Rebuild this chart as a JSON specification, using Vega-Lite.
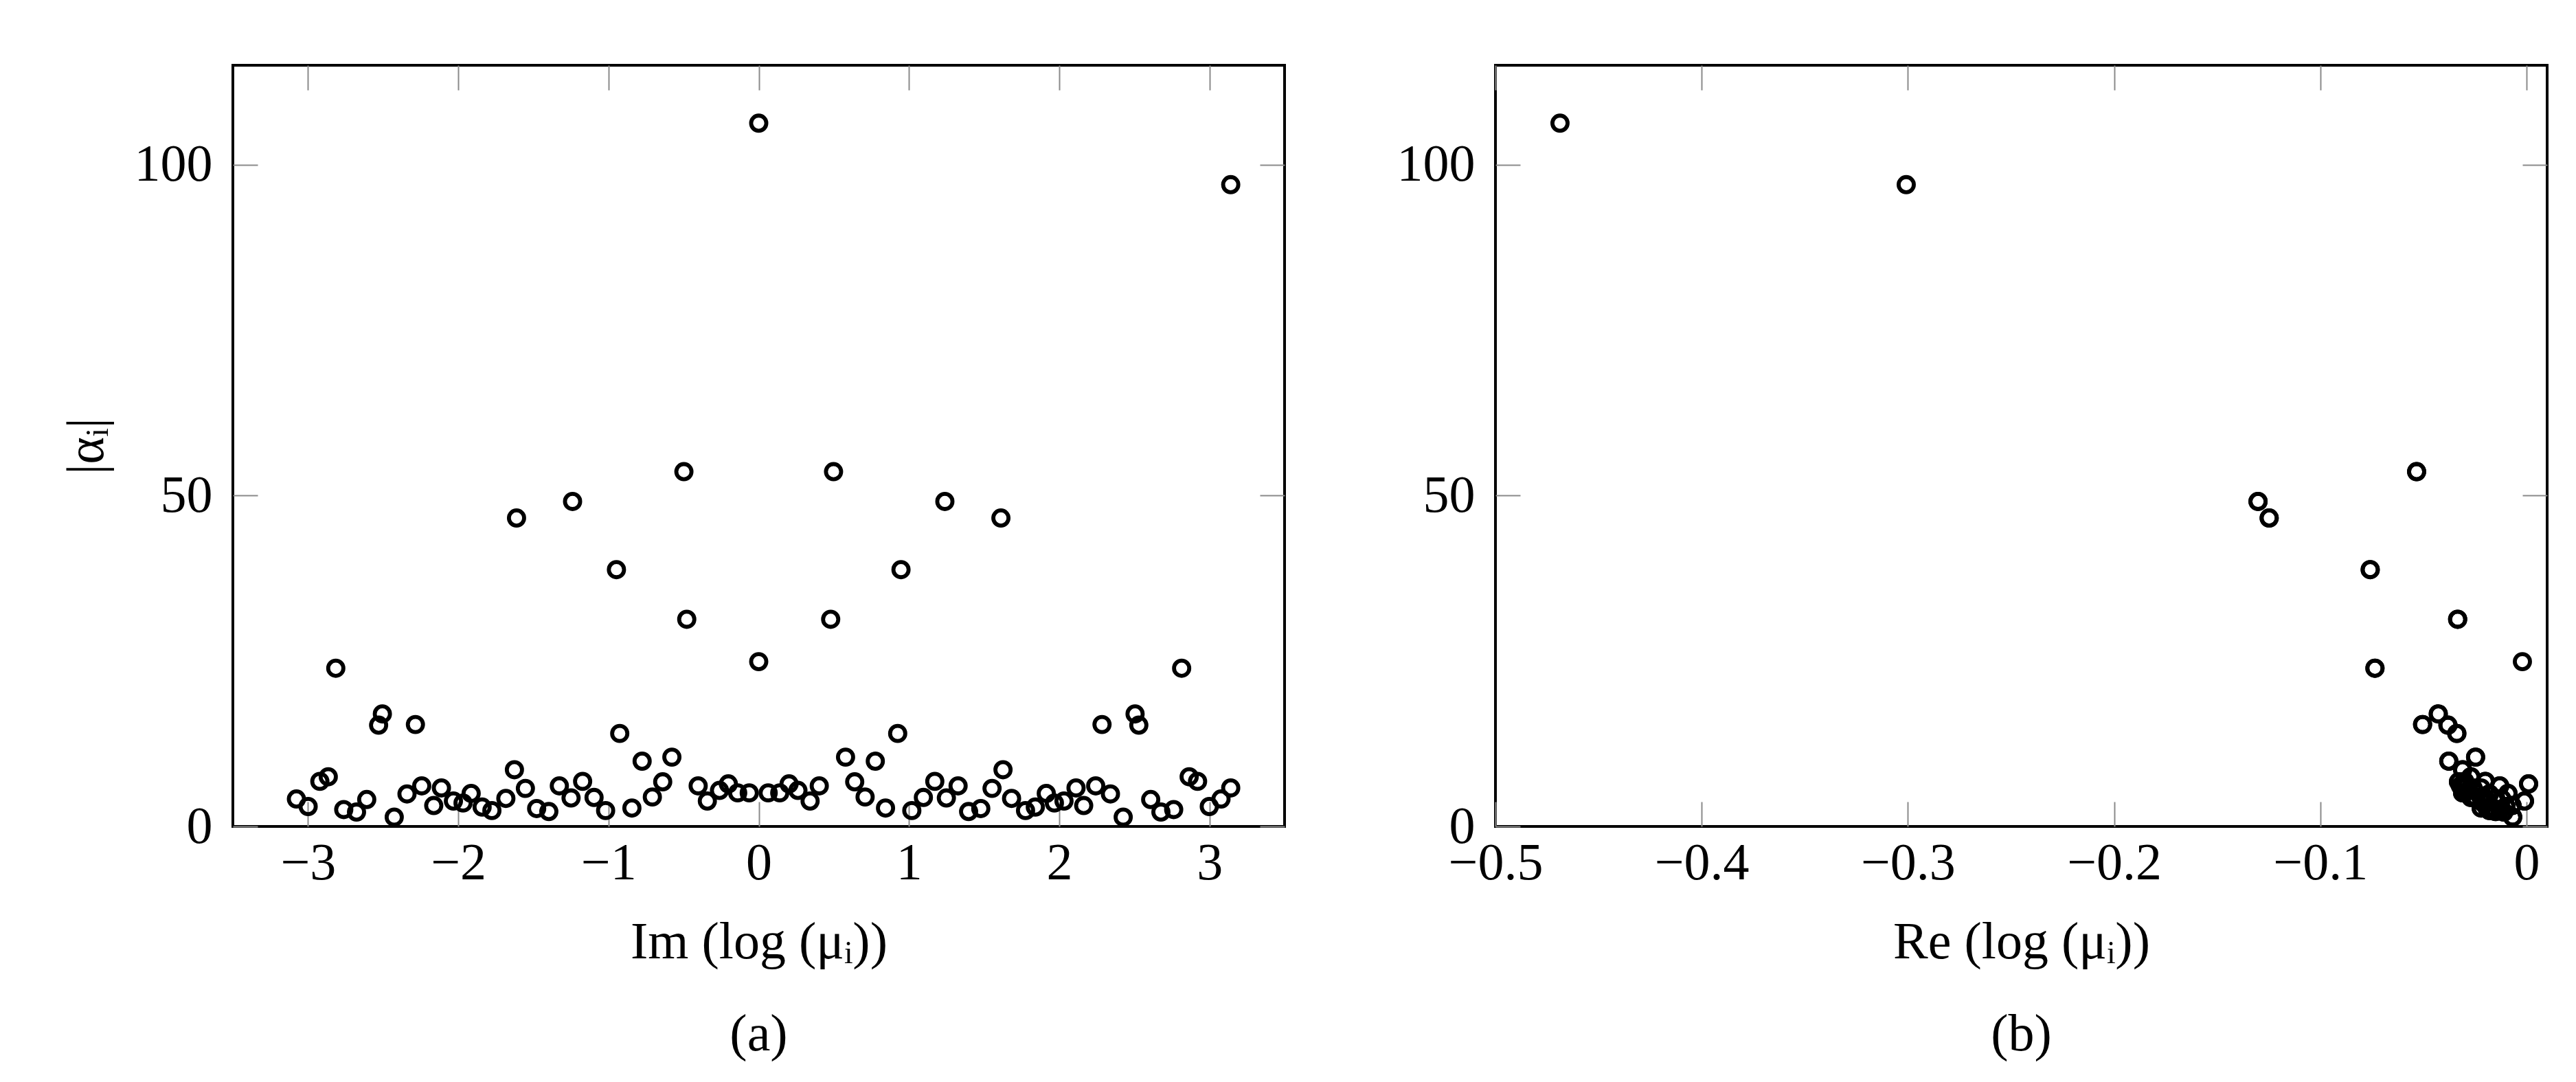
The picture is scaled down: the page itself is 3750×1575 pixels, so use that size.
{
  "$schema": "https://vega.github.io/schema/vega-lite/v6.json",
  "padding": {"left": 86, "top": 92, "right": 0, "bottom": 0},
  "background": "white",
  "config": {
    "font": "Liberation Serif",
    "view": {"stroke": "black", "strokeWidth": 4},
    "axis": {
      "labelFont": "Liberation Serif", "titleFont": "Liberation Serif",
      "labelFontSize": 76, "titleFontSize": 76,
      "labelColor": "black", "titleColor": "black", "titleFontWeight": "normal",
      "tickColor": "#8a8a8a", "tickWidth": 2, "tickSize": -36,
      "domain": false, "grid": false, "labelFlush": false, "labelOverlap": false
    }
  },
  "datasets": {
    "d": [
      {"im": 0.498, "re": -0.0533, "a": 53.6}, {"im": -0.498, "re": -0.0533, "a": 53.6},
      {"im": 1.239, "re": -0.1302, "a": 49.1}, {"im": -1.239, "re": -0.1302, "a": 49.1},
      {"im": 1.612, "re": -0.1248, "a": 46.6}, {"im": -1.612, "re": -0.1248, "a": 46.6},
      {"im": 0.947, "re": -0.0758, "a": 38.8}, {"im": -0.947, "re": -0.0758, "a": 38.8},
      {"im": 0.479, "re": -0.0334, "a": 31.3}, {"im": -0.479, "re": -0.0334, "a": 31.3},
      {"im": 2.815, "re": -0.0735, "a": 23.9}, {"im": -2.815, "re": -0.0735, "a": 23.9},
      {"im": 2.505, "re": -0.0428, "a": 17.0}, {"im": -2.505, "re": -0.0428, "a": 17.0},
      {"im": 2.530, "re": -0.0381, "a": 15.3}, {"im": -2.530, "re": -0.0381, "a": 15.3},
      {"im": 2.285, "re": -0.0504, "a": 15.4}, {"im": -2.285, "re": -0.0504, "a": 15.4},
      {"im": 0.925, "re": -0.0338, "a": 14.05}, {"im": -0.925, "re": -0.0338, "a": 14.05},
      {"im": 0.776, "re": -0.0377, "a": 9.86}, {"im": -0.776, "re": -0.0377, "a": 9.86},
      {"im": 0.578, "re": -0.0247, "a": 10.47}, {"im": -0.578, "re": -0.0247, "a": 10.47},
      {"im": 1.626, "re": -0.031, "a": 8.57}, {"im": -1.626, "re": -0.031, "a": 8.57},
      {"im": 2.865, "re": -0.027, "a": 7.50}, {"im": -2.865, "re": -0.027, "a": 7.50},
      {"im": 2.921, "re": -0.020, "a": 6.81}, {"im": -2.921, "re": -0.020, "a": 6.81},
      {"im": 3.077, "re": -0.012, "a": 4.15}, {"im": -3.077, "re": -0.012, "a": 4.15},
      {"im": 2.999, "re": -0.010, "a": 3.01}, {"im": -2.999, "re": -0.010, "a": 3.01},
      {"im": 2.762, "re": -0.013, "a": 2.55}, {"im": -2.762, "re": -0.013, "a": 2.55},
      {"im": 2.677, "re": -0.011, "a": 2.17}, {"im": -2.677, "re": -0.011, "a": 2.17},
      {"im": 2.609, "re": -0.020, "a": 4.07}, {"im": -2.609, "re": -0.020, "a": 4.07},
      {"im": 2.426, "re": -0.0067, "a": 1.41}, {"im": -2.426, "re": -0.0067, "a": 1.41},
      {"im": 2.341, "re": -0.018, "a": 4.91}, {"im": -2.341, "re": -0.018, "a": 4.91},
      {"im": 2.243, "re": -0.013, "a": 6.13}, {"im": -2.243, "re": -0.013, "a": 6.13},
      {"im": 2.163, "re": -0.007, "a": 3.16}, {"im": -2.163, "re": -0.007, "a": 3.16},
      {"im": 2.112, "re": -0.026, "a": 5.82}, {"im": -2.112, "re": -0.026, "a": 5.82},
      {"im": 2.032, "re": -0.019, "a": 3.84}, {"im": -2.032, "re": -0.019, "a": 3.84},
      {"im": 1.968, "re": -0.021, "a": 3.54}, {"im": -1.968, "re": -0.021, "a": 3.54},
      {"im": 1.914, "re": -0.009, "a": 4.99}, {"im": -1.914, "re": -0.009, "a": 4.99},
      {"im": 1.841, "re": -0.017, "a": 2.93}, {"im": -1.841, "re": -0.017, "a": 2.93},
      {"im": 1.776, "re": -0.016, "a": 2.40}, {"im": -1.776, "re": -0.016, "a": 2.40},
      {"im": 1.683, "re": -0.015, "a": 4.23}, {"im": -1.683, "re": -0.015, "a": 4.23},
      {"im": 1.553, "re": -0.031, "a": 5.75}, {"im": -1.553, "re": -0.031, "a": 5.75},
      {"im": 1.478, "re": -0.019, "a": 2.70}, {"im": -1.478, "re": -0.019, "a": 2.70},
      {"im": 1.397, "re": -0.015, "a": 2.25}, {"im": -1.397, "re": -0.015, "a": 2.25},
      {"im": 1.327, "re": -0.029, "a": 6.13}, {"im": -1.327, "re": -0.029, "a": 6.13},
      {"im": 1.249, "re": -0.022, "a": 4.30}, {"im": -1.249, "re": -0.022, "a": 4.30},
      {"im": 1.172, "re": -0.030, "a": 6.81}, {"im": -1.172, "re": -0.030, "a": 6.81},
      {"im": 1.096, "re": -0.027, "a": 4.38}, {"im": -1.096, "re": -0.027, "a": 4.38},
      {"im": 1.019, "re": -0.018, "a": 2.40}, {"im": -1.019, "re": -0.018, "a": 2.40},
      {"im": 0.844, "re": -0.022, "a": 2.78}, {"im": -0.844, "re": -0.022, "a": 2.78},
      {"im": 0.708, "re": -0.025, "a": 4.45}, {"im": -0.708, "re": -0.025, "a": 4.45},
      {"im": 0.639, "re": -0.033, "a": 6.74}, {"im": -0.639, "re": -0.033, "a": 6.74},
      {"im": 0.403, "re": -0.032, "a": 6.13}, {"im": -0.403, "re": -0.032, "a": 6.13},
      {"im": 0.342, "re": -0.001, "a": 3.84}, {"im": -0.342, "re": -0.001, "a": 3.84},
      {"im": 0.261, "re": -0.028, "a": 5.44}, {"im": -0.261, "re": -0.028, "a": 5.44},
      {"im": 0.202, "re": 0.001, "a": 6.43}, {"im": -0.202, "re": 0.001, "a": 6.43},
      {"im": 0.140, "re": -0.030, "a": 5.07}, {"im": -0.140, "re": -0.030, "a": 5.07},
      {"im": 0.063, "re": -0.031, "a": 5.07}, {"im": -0.063, "re": -0.031, "a": 5.07},
      {"im": 0, "re": -0.4687, "a": 106.25},
      {"im": 0, "re": -0.002, "a": 24.9},
      {"im": 3.1416, "re": -0.3008, "a": 96.96},
      {"im": 3.1416, "re": -0.022, "a": 5.82}
    ]
  },
  "spacing": 307,
  "bounds": "flush",
  "hconcat": [
    {
      "width": 1531, "height": 1108,
      "title": {"text": "(a)", "orient": "bottom", "offset": 60, "fontSize": 76, "font": "Liberation Serif", "fontWeight": "normal", "anchor": "middle", "color": "black"},
      "data": {"name": "d"},
      "resolve": {"axis": {"x": "independent", "y": "independent"}},
      "layer": [
        {
          "mark": {"type": "point", "shape": "circle", "filled": false, "stroke": "black", "strokeWidth": 5.8, "size": 490, "opacity": 1},
          "encoding": {
            "x": {"field": "im", "type": "quantitative", "scale": {"domain": [-3.5, 3.5], "nice": false, "zero": false},
                  "axis": {"orient": "bottom", "values": [-3, -2, -1, 0, 1, 2, 3], "format": "d", "title": "Im (log (μᵢ))", "labelPadding": 52, "titlePadding": 40}},
            "y": {"field": "a", "type": "quantitative", "scale": {"domain": [0, 115], "nice": false, "zero": false},
                  "axis": {"orient": "left", "values": [0, 50, 100], "format": "d", "title": "|αᵢ|", "labelPadding": 66, "titlePadding": 30}}
          }
        },
        {
          "mark": {"type": "point", "opacity": 0},
          "encoding": {
            "x": {"field": "im", "type": "quantitative", "axis": {"orient": "top", "values": [-3, -2, -1, 0, 1, 2, 3], "labels": false, "title": null}},
            "y": {"field": "a", "type": "quantitative", "axis": {"orient": "right", "values": [0, 50, 100], "labels": false, "title": null}}
          }
        }
      ]
    },
    {
      "width": 1531, "height": 1108,
      "title": {"text": "(b)", "orient": "bottom", "offset": 60, "fontSize": 76, "font": "Liberation Serif", "fontWeight": "normal", "anchor": "middle", "color": "black"},
      "data": {"name": "d"},
      "resolve": {"axis": {"x": "independent", "y": "independent"}},
      "layer": [
        {
          "mark": {"type": "point", "shape": "circle", "filled": false, "stroke": "black", "strokeWidth": 5.8, "size": 490, "opacity": 1},
          "encoding": {
            "x": {"field": "re", "type": "quantitative", "scale": {"domain": [-0.5, 0.01], "nice": false, "zero": false},
                  "axis": {"orient": "bottom", "values": [-0.5, -0.4, -0.3, -0.2, -0.1, 0], "format": ".1~f", "title": "Re (log (μᵢ))", "labelPadding": 52, "titlePadding": 40}},
            "y": {"field": "a", "type": "quantitative", "scale": {"domain": [0, 115], "nice": false, "zero": false},
                  "axis": {"orient": "left", "values": [0, 50, 100], "format": "d", "title": null, "labelPadding": 66}}
          }
        },
        {
          "mark": {"type": "point", "opacity": 0},
          "encoding": {
            "x": {"field": "re", "type": "quantitative", "axis": {"orient": "top", "values": [-0.5, -0.4, -0.3, -0.2, -0.1, 0], "labels": false, "title": null}},
            "y": {"field": "a", "type": "quantitative", "axis": {"orient": "right", "values": [0, 50, 100], "labels": false, "title": null}}
          }
        }
      ]
    }
  ]
}
